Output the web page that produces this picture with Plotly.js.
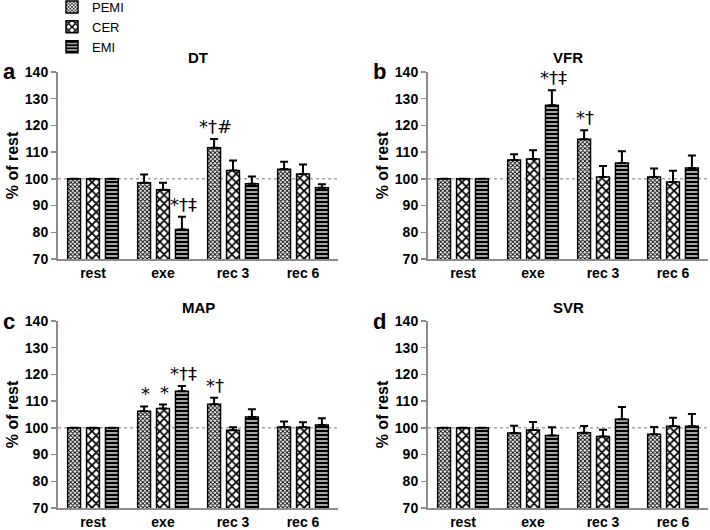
<!DOCTYPE html>
<html>
<head>
<meta charset="utf-8">
<script src="https://cdn.plot.ly/plotly-3.0.1.min.js"></script>
<style>
  body { margin: 0; background: #fff; }
  #chart { width: 710px; height: 530px; }
</style>
</head>
<body>
<div id="chart"></div>
<script>
// categories and groups
const categories = ['rest', 'exe', 'rec 3', 'rec 6'];
const seriesNames = ['PEMI', 'CER', 'EMI'];

// a: DT (% of rest), error = SE upward
const dtPEMI = [100, 98.5, 111.6, 103.6];
const dtPEMIErr = [null, 3.1, 3.3, 2.8];
const dtCER = [100, 95.9, 103.1, 101.8];
const dtCERErr = [null, 2.6, 3.8, 3.6];
const dtEMI = [100, 81.0, 98.2, 96.7];
const dtEMIErr = [null, 4.8, 2.7, 1.3];
const dtMarks = [['exe', 2, '*†‡'], ['rec 3', 0, '*†#']];

// b: VFR
const vfrPEMI = [100, 107.1, 114.8, 100.7];
const vfrPEMIErr = [null, 2.1, 3.4, 3.2];
const vfrCER = [100, 107.4, 100.7, 98.8];
const vfrCERErr = [null, 3.3, 4.1, 4.2];
const vfrEMI = [100, 127.6, 105.9, 104.1];
const vfrEMIErr = [null, 5.6, 4.4, 4.6];
const vfrMarks = [['exe', 2, '*†‡'], ['rec 3', 0, '*†']];

// c: MAP
const mapPEMI = [100, 106.2, 108.8, 100.3];
const mapPEMIErr = [null, 1.8, 2.5, 2.1];
const mapCER = [100, 107.2, 99.1, 100.2];
const mapCERErr = [null, 1.5, 1.1, 1.9];
const mapEMI = [100, 113.7, 104.1, 101.1];
const mapEMIErr = [null, 2.0, 2.9, 2.5];
const mapMarks = [['exe', 0, '*'], ['exe', 1, '*'], ['exe', 2, '*†‡'], ['rec 3', 0, '*†']];

// d: SVR
const svrPEMI = [100, 98.1, 98.2, 97.6];
const svrPEMIErr = [null, 2.7, 2.5, 2.7];
const svrCER = [100, 99.2, 96.8, 100.6];
const svrCERErr = [null, 3.0, 2.5, 3.2];
const svrEMI = [100, 97.1, 103.2, 100.6];
const svrEMIErr = [null, 3.1, 4.6, 4.6];
const svrMarks = [];

const W = 710, H = 530;
const FONT = 'Arial, "Liberation Sans", Helvetica, sans-serif';
const MARK_FONT = '"DejaVu Sans", Arial, sans-serif';
const AXIS_GREY = '#8c8c8c';

const patterns = [
  { shape: 'x', size: 3, solidity: 0.5, fgcolor: '#000', bgcolor: '#fff' },
  { shape: 'x', size: 6, solidity: 0.5, fgcolor: '#000', bgcolor: '#fff' },
  { shape: '-', size: 4, solidity: 0.68, fgcolor: '#000', bgcolor: '#fff' }
];

const panels = [
  { id: '', letter: 'a', title: 'DT', vals: [dtPEMI, dtCER, dtEMI], errs: [dtPEMIErr, dtCERErr, dtEMIErr], marks: dtMarks, x0: 58, x1: 338, top: 72, bottom: 259 },
  { id: '2', letter: 'b', title: 'VFR', vals: [vfrPEMI, vfrCER, vfrEMI], errs: [vfrPEMIErr, vfrCERErr, vfrEMIErr], marks: vfrMarks, x0: 428, x1: 708, top: 72, bottom: 259 },
  { id: '3', letter: 'c', title: 'MAP', vals: [mapPEMI, mapCER, mapEMI], errs: [mapPEMIErr, mapCERErr, mapEMIErr], marks: mapMarks, x0: 58, x1: 338, top: 321, bottom: 508 },
  { id: '4', letter: 'd', title: 'SVR', vals: [svrPEMI, svrCER, svrEMI], errs: [svrPEMIErr, svrCERErr, svrEMIErr], marks: svrMarks, x0: 428, x1: 708, top: 321, bottom: 508 }
];

const traces = [];
const annotations = [];
const shapes = [];
const layout = {
  width: W, height: H,
  margin: { l: 0, r: 0, t: 0, b: 0, autoexpand: false },
  paper_bgcolor: '#fff', plot_bgcolor: '#fff',
  font: { family: FONT, color: '#000' },
  barmode: 'group',
  bargap: 0.19,
  bargroupgap: 0.32,
  showlegend: true,
  legend: {
    x: 52 / W, y: 1 + 8 / H, xanchor: 'left', yanchor: 'top',
    font: { family: FONT, size: 13, color: '#000' },
    bgcolor: 'rgba(0,0,0,0)', tracegroupgap: 0
  }
};

panels.forEach((p, pi) => {
  const xa = 'x' + p.id, ya = 'y' + p.id;
  for (let s = 0; s < 3; s++) {
    traces.push({
      type: 'bar',
      name: seriesNames[s],
      x: categories,
      y: p.vals[s],
      xaxis: xa, yaxis: ya,
      showlegend: pi === 0,
      legendgroup: seriesNames[s],
      marker: { color: '#fff', pattern: patterns[s], line: { color: '#000', width: 1.5 } },
      error_y: {
        type: 'data', symmetric: false,
        array: p.errs[s], arrayminus: p.errs[s].map(() => 0),
        color: '#000', thickness: 2, width: 4
      },
      hoverinfo: 'skip'
    });
  }

  layout['xaxis' + p.id] = {
    domain: [p.x0 / W, p.x1 / W],
    anchor: ya,
    range: [-0.5, 3.5],
    showline: true, linecolor: AXIS_GREY, linewidth: 2,
    ticks: '', showgrid: false, zeroline: false,
    tickfont: { family: FONT, size: 14, weight: 'bold', color: '#000' },
    fixedrange: true
  };
  layout['yaxis' + p.id] = {
    domain: [1 - p.bottom / H, 1 - p.top / H],
    anchor: xa,
    range: [70, 140], dtick: 10, tick0: 70,
    showline: true, linecolor: AXIS_GREY, linewidth: 2,
    ticks: 'outside', ticklen: 5, tickwidth: 1.5, tickcolor: AXIS_GREY,
    showgrid: false, zeroline: false,
    tickfont: { family: FONT, size: 14, weight: 'bold', color: '#000' },
    title: { text: '% of rest', standoff: 2, font: { family: FONT, size: 16, weight: 'bold', color: '#000' } },
    fixedrange: true
  };

  // dotted reference line at 100 %
  shapes.push({
    type: 'line', xref: xa + ' domain', yref: ya,
    x0: 0, x1: 1, y0: 100, y1: 100,
    line: { color: '#777', width: 1, dash: 'dot' },
    layer: 'below'
  });

  // panel title
  annotations.push({
    xref: xa + ' domain', yref: ya + ' domain', x: 0.5, y: 1,
    yanchor: 'middle', yshift: 14, showarrow: false,
    text: p.title, font: { family: FONT, size: 15, weight: 'bold', color: '#000' }
  });
  // panel letter
  annotations.push({
    xref: 'paper', yref: 'paper',
    x: (p.x0 - 57) / W, y: 1 - p.top / H,
    xanchor: 'left', yanchor: 'middle', showarrow: false,
    text: p.letter, font: { family: FONT, size: 22, weight: 'bold', color: '#000' }
  });

  // significance marks above the error bars
  p.marks.forEach(([cat, s, txt]) => {
    const ci = categories.indexOf(cat);
    annotations.push({
      xref: xa, yref: ya,
      x: cat, y: p.vals[s][ci] + (p.errs[s][ci] || 0),
      xshift: (s - 1) * 19 + 1, yshift: 0,
      yanchor: 'bottom', showarrow: false,
      text: txt, font: { family: MARK_FONT, size: 18, color: '#000' }
    });
  });
});

layout.annotations = annotations;
layout.shapes = shapes;

Plotly.newPlot('chart', traces, layout, { staticPlot: true, displayModeBar: false });
</script>
</body>
</html>
